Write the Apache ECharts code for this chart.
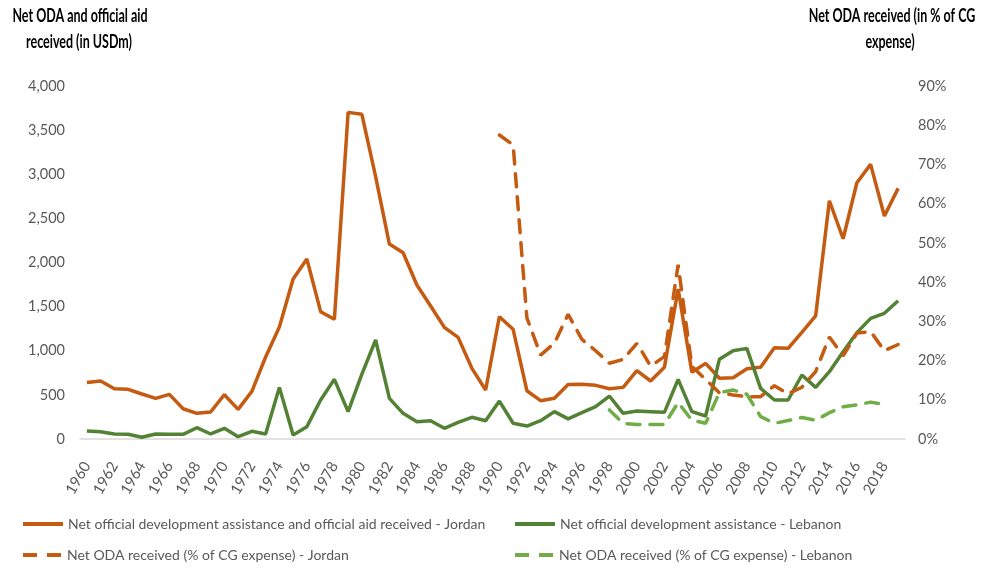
<!DOCTYPE html>
<html>
<head>
<meta charset="utf-8">
<script src="https://cdn.jsdelivr.net/npm/echarts@6/dist/echarts.min.js"></script>
<style>
  html, body { margin: 0; padding: 0; background: #fff; }
  #chart { width: 988px; height: 569px; }
</style>
</head>
<body>
<div id="chart"></div>
<script>
const FONT = "Lato, 'Liberation Sans', sans-serif";

const years = [];
for (let y = 1960; y <= 2019; y++) years.push(String(y));

// USDm, left axis
const jordanOda = [
  640, 657, 570, 563, 510, 461, 506, 343, 291, 306,
  502, 336, 540, 929, 1270, 1813, 2040, 1443, 1356, 3701,
  3679, 2972, 2209, 2110, 1745, 1507, 1265, 1152, 801, 555,
  1386, 1243, 547, 434, 461, 618, 620, 608, 570, 585,
  774, 657, 812, 1700, 756, 857, 688, 695, 797, 812,
  1035, 1027, 1209, 1394, 2700, 2269, 2904, 3112, 2527, 2840
];
const lebanonOda = [
  91, 83, 57, 53, 20, 57, 53, 53, 128, 57,
  121, 26, 87, 57, 585, 45, 140, 442, 676, 310,
  736, 1122, 461, 291, 196, 207, 121, 189, 246, 207,
  430, 178, 147, 207, 310, 228, 298, 366, 487, 291,
  317, 310, 302, 676, 310, 261, 903, 1001, 1027, 574,
  442, 442, 725, 585, 763, 989, 1205, 1367, 1424, 1567
];
// % of CG expense, right axis
const jordanPct = [
  null, null, null, null, null, null, null, null, null, null,
  null, null, null, null, null, null, null, null, null, null,
  null, null, null, null, null, null, null, null, null, null,
  77.5, 75, 30.9, 21.4, 24.4, 31.8, 25.4, 22.5, 19.3, 20.3,
  24.4, 18.6, 21, 44.4, 18.5, 15.2, 11.8, 11.2, 10.8, 10.8,
  13.6, 11.5, 13.2, 17.2, 26, 21.2, 27, 27.4, 22.5, 24.1
];
const lebanonPct = [
  null, null, null, null, null, null, null, null, null, null,
  null, null, null, null, null, null, null, null, null, null,
  null, null, null, null, null, null, null, null, null, null,
  null, null, null, null, null, null, null, null, 7.4, 4.0,
  3.7, 3.7, 3.7, 9.3, 4.8, 4.0, 11.8, 12.5, 11.4, 5.7,
  4.0, 4.7, 5.5, 4.8, 6.7, 8.2, 8.7, 9.4, 8.8, null
];

const names = [
  'Net official development assistance and official aid received - Jordan',
  'Net official development assistance - Lebanon',
  'Net ODA received (% of CG expense) - Jordan',
  'Net ODA received (% of CG expense) - Lebanon'
];
const leftTitle = ['Net ODA and official aid', 'received (in USDm)'];
const rightTitle = ['Net ODA received (in % of CG', 'expense)'];

const ORANGE = '#C55A11';
const GREEN = '#548235';
const LIGHT_GREEN = '#70AD47';

const SOLID_ICON = 'path://M0,0h40v4h-40z';
const DASH_ICON = 'path://M0,0h14v4h-14zM24,0h14v4h-14z';

const chart = echarts.init(document.getElementById('chart'));

function legendAt(name, icon, left, top) {
  return {
    data: [{ name: name, icon: icon }],
    left: left,
    top: top,
    itemWidth: 40,
    itemHeight: 4,
    textStyle: { fontFamily: FONT, fontSize: 14, color: '#595959' },
    selectedMode: false
  };
}

// stretched bold header lines, like the tall narrow text of the original
function header(text, x, y) {
  return {
    type: 'text', x: x, y: y, scaleY: 1.5,
    style: {
      text: text, font: 'bold 12.5px ' + FONT, fill: '#000',
      align: 'center', verticalAlign: 'middle'
    }
  };
}

const axisLabel = { fontFamily: FONT, fontSize: 14.5, color: '#595959' };

chart.setOption({
  animation: false,
  textStyle: { fontFamily: FONT },
  grid: { left: 80, right: 83, top: 86, bottom: 130 },
  graphic: [
    header(leftTitle[0], 80, 16),
    header(leftTitle[1], 79, 42),
    header(rightTitle[0], 892, 16),
    header(rightTitle[1], 890, 42)
  ],
  legend: [
    legendAt(names[0], SOLID_ICON, 18, 512),
    legendAt(names[1], SOLID_ICON, 510, 512),
    legendAt(names[2], DASH_ICON, 18, 543),
    legendAt(names[3], DASH_ICON, 510, 543)
  ],
  xAxis: {
    type: 'category',
    data: years,
    boundaryGap: true,
    axisTick: { show: false },
    axisLine: { lineStyle: { color: '#d9d9d9', width: 1.5 } },
    axisLabel: { ...axisLabel, fontSize: 15, interval: 1, rotate: 60, margin: 24 }
  },
  yAxis: [
    {
      type: 'value', min: 0, max: 4000, interval: 500,
      splitLine: { show: false },
      axisLine: { show: false },
      axisLabel: {
        ...axisLabel, margin: 15,
        formatter: (v) => v.toLocaleString('en-US')
      }
    },
    {
      type: 'value', min: 0, max: 90, interval: 10,
      splitLine: { show: false },
      axisLine: { show: false },
      axisLabel: { ...axisLabel, margin: 13, formatter: '{value}%' }
    }
  ],
  series: [
    {
      name: names[0], type: 'line', yAxisIndex: 0, data: jordanOda,
      symbol: 'none', lineStyle: { color: ORANGE, width: 3.5 },
      itemStyle: { color: ORANGE }
    },
    {
      name: names[1], type: 'line', yAxisIndex: 0, data: lebanonOda,
      symbol: 'none', lineStyle: { color: GREEN, width: 3.5 },
      itemStyle: { color: GREEN }
    },
    {
      name: names[2], type: 'line', yAxisIndex: 1, data: jordanPct,
      symbol: 'none',
      lineStyle: { color: ORANGE, width: 3.5, type: [13, 10], cap: 'round' },
      itemStyle: { color: ORANGE }
    },
    {
      name: names[3], type: 'line', yAxisIndex: 1, data: lebanonPct,
      symbol: 'none',
      lineStyle: { color: LIGHT_GREEN, width: 3.5, type: [13, 10], cap: 'round' },
      itemStyle: { color: LIGHT_GREEN }
    }
  ]
});
</script>
</body>
</html>
